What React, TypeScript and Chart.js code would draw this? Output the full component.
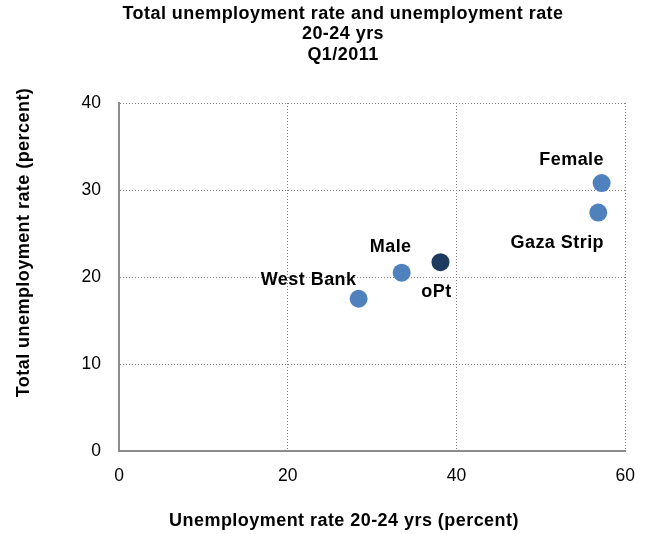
import { useEffect, useRef } from 'react';
import { Chart, registerables } from 'chart.js';

Chart.register(...registerables);

// Unemployment, Q1/2011: youth (20-24 yrs) rate vs total rate, by region / sex
const regions = ['West Bank', 'Male', 'oPt', 'Female', 'Gaza Strip'];
const youthRate = [28.4, 33.5, 38.1, 57.2, 56.8];
const totalRate = [17.5, 20.5, 21.7, 30.8, 27.4];

const xTicks = [0, 20, 40, 60];
const yTicks = [0, 10, 20, 30, 40];

const chartTitle = ['Total unemployment rate and unemployment rate', '20-24 yrs', 'Q1/2011'];
const xAxisTitle = 'Unemployment rate 20-24 yrs (percent)';
const yAxisTitle = 'Total unemployment rate (percent)';

const FONT = '"Liberation Sans", Arial, Helvetica, sans-serif';
const BLUE = '#4f81bd';
const NAVY = '#1f3a5f';
const GRID = '#7f7f7f';

// label offsets (px) from each marker centre
const labelPlacement: Record<string, [number, number]> = {
  'West Bank': [-50, -19],
  Male: [-11, -26],
  oPt: [-4, 30],
  Female: [-30, -23],
  'Gaza Strip': [-41, 30],
};

const setText = (ctx: CanvasRenderingContext2D) => {
  ctx.font = `bold 18px ${FONT}`;
  (ctx as any).letterSpacing = '0.45px';
  ctx.fillStyle = '#000';
  ctx.textAlign = 'center';
  ctx.textBaseline = 'middle';
};

const textLayer = {
  id: 'textLayer',
  afterDatasetsDraw(chart: any) {
    const ctx: CanvasRenderingContext2D = chart.ctx;
    const meta = chart.getDatasetMeta(0);
    ctx.save();
    setText(ctx);
    meta.data.forEach((pt: any, i: number) => {
      const [dx, dy] = labelPlacement[regions[i]];
      ctx.fillText(regions[i], pt.x + dx, pt.y + dy);
    });
    ctx.restore();
  },
  afterDraw(chart: any) {
    const ctx: CanvasRenderingContext2D = chart.ctx;
    ctx.save();
    setText(ctx);
    chartTitle.forEach((line, i) => ctx.fillText(line, 343, 14 + i * 20.5));
    ctx.fillText(xAxisTitle, 344, 521);
    ctx.translate(24.5, 242.5);
    ctx.rotate(-Math.PI / 2);
    ctx.fillText(yAxisTitle, 0, 0);
    ctx.restore();
  },
};

export default function App() {
  const canvasRef = useRef<HTMLCanvasElement | null>(null);

  useEffect(() => {
    const canvas = canvasRef.current;
    if (!canvas) return;
    const chart = new Chart(canvas, {
      type: 'scatter',
      data: {
        datasets: [
          {
            data: regions.map((_, i) => ({ x: youthRate[i], y: totalRate[i] })),
            pointRadius: 9,
            pointHoverRadius: 9,
            pointBorderWidth: 0,
            pointBackgroundColor: regions.map((r) => (r === 'oPt' ? NAVY : BLUE)),
            pointBorderColor: regions.map((r) => (r === 'oPt' ? NAVY : BLUE)),
          },
        ],
      },
      options: {
        responsive: false,
        animation: false,
        devicePixelRatio: 1,
        layout: { padding: { top: 103, right: 23, bottom: 0, left: 0 } },
        plugins: {
          legend: { display: false },
          title: { display: false },
          tooltip: { enabled: false },
        },
        scales: {
          x: {
            type: 'linear',
            min: xTicks[0],
            max: xTicks[xTicks.length - 1],
            afterBuildTicks: (s: any) => {
              s.ticks = xTicks.map((v) => ({ value: v }));
            },
            afterFit: (s: any) => {
              s.height = 83;
            },
            grid: { color: GRID, lineWidth: 1, drawTicks: false },
            border: { display: true, color: '#8c8c8c', width: 2, dash: [1, 2] },
            ticks: {
              padding: 15,
              color: '#000',
              font: { family: FONT, size: 17.5 },
              maxRotation: 0,
            },
          },
          y: {
            type: 'linear',
            min: yTicks[0],
            max: yTicks[yTicks.length - 1],
            afterBuildTicks: (s: any) => {
              s.ticks = yTicks.map((v) => ({ value: v }));
            },
            afterFit: (s: any) => {
              s.width = 119;
            },
            grid: { color: GRID, lineWidth: 1, drawTicks: false },
            border: { display: true, color: '#8c8c8c', width: 2, dash: [1, 2] },
            ticks: {
              padding: 18,
              color: '#000',
              font: { family: FONT, size: 17.5 },
            },
          },
        },
      },
      plugins: [textLayer],
    });
    return () => chart.destroy();
  }, []);

  return (
    <div style={{ position: 'absolute', left: 0, top: 0, width: 650, height: 534, background: '#fff' }}>
      <canvas ref={canvasRef} width={650} height={534} />
    </div>
  );
}
